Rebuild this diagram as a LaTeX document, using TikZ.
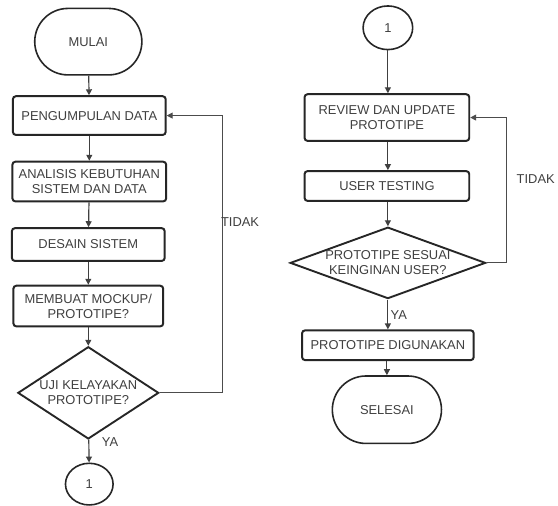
\documentclass[tikz,border=0pt]{standalone}
\usepackage{fontspec}
\setmainfont{Liberation Sans}
\usepackage{tikz}
\usetikzlibrary{arrows.meta, shapes.geometric, shapes.misc}
\begin{document}
\begin{tikzpicture}[x=1pt,y=-1pt,
every node/.style={font=\fontsize{13}{15}\selectfont,text=black!75},
box/.style={draw=black!85,line width=2pt,rounded corners=3pt,inner sep=0pt,align=center},
terminal/.style={draw=black!85,line width=1.6pt,rounded rectangle,inner sep=0pt},
decision/.style={draw=black!85,line width=1.9pt,diamond,inner sep=0pt,align=center},
connector/.style={draw=black!85,line width=1.6pt,ellipse,inner sep=0pt},
flow/.style={line width=1.2pt,draw=black!75,-{Triangle[length=6pt,width=6pt]}},
back/.style={line width=1.1pt,draw=black!70,-{Triangle[length=6pt,width=6pt]}}]
\fill[white](0,0) rectangle (558,510);
\node[terminal,minimum width=108pt,minimum height=67pt] (mulai) at (89,42) {MULAI};
\node[box,minimum width=154pt,minimum height=39pt] (kumpul) at (90,116.5) {PENGUMPULAN DATA};
\node[box,minimum width=155pt,minimum height=40pt] (analisis) at (90,183) {ANALISIS KEBUTUHAN\\SISTEM DAN DATA};
\node[box,minimum width=154pt,minimum height=33pt] (desain) at (89,246.5) {DESAIN SISTEM};
\node[box,minimum width=151pt,minimum height=41pt] (mockup) at (89,308.5) {MEMBUAT MOCKUP/\\PROTOTIPE?};
\node[decision,minimum width=142pt,minimum height=93pt] (uji) at (89,396) {\makebox[0pt]{UJI KELAYAKAN}\\\makebox[0pt]{PROTOTIPE?}};
\node[connector,minimum width=48pt,minimum height=42pt] (satuA) at (90,488) {1};
\node[connector,minimum width=50pt,minimum height=44pt] (satuB) at (391,28) {1};
\node[box,minimum width=166pt,minimum height=47pt] (review) at (390,118.5) {REVIEW DAN UPDATE\\PROTOTIPE};
\node[box,minimum width=166pt,minimum height=30pt] (testing) at (390,187.5) {USER TESTING};
\node[decision,minimum width=197pt,minimum height=72pt] (sesuai) at (391,265) {\makebox[0pt]{PROTOTIPE SESUAI}\\\makebox[0pt]{KEINGINAN USER?}};
\node[box,minimum width=173pt,minimum height=30pt] (guna) at (391,348) {PROTOTIPE DIGUNAKAN};
\node[terminal,minimum width=110pt,minimum height=68pt] (selesai) at (390,413) {SELESAI};
\draw[flow](mulai) -- (kumpul);
\draw[flow](kumpul) -- (analisis);
\draw[flow](analisis) -- (desain);
\draw[flow](desain) -- (mockup);
\draw[flow](mockup) -- (uji);
\draw[flow](uji) -- (satuA);
\draw[back](uji.east) -- ++(63,0) |- (kumpul.east);
\draw[flow](satuB) -- (review.north -| satuB);
\draw[flow](review.south -| satuB) -- (testing.north -| satuB);
\draw[flow](testing.south -| satuB) -- (sesuai);
\draw[flow](sesuai) -- (guna.north -| sesuai);
\draw[flow](guna.south -| selesai) -- (selesai);
\draw[back](sesuai.east) -- ++(20,0) |- (review.east);
\node (tidakA) at (242,224) {TIDAK};
\node (yaA) at (111,446) {YA};
\node (tidakB) at (540,180) {TIDAK};
\node (yaB) at (402,318) {YA};
\end{tikzpicture}
\end{document}
